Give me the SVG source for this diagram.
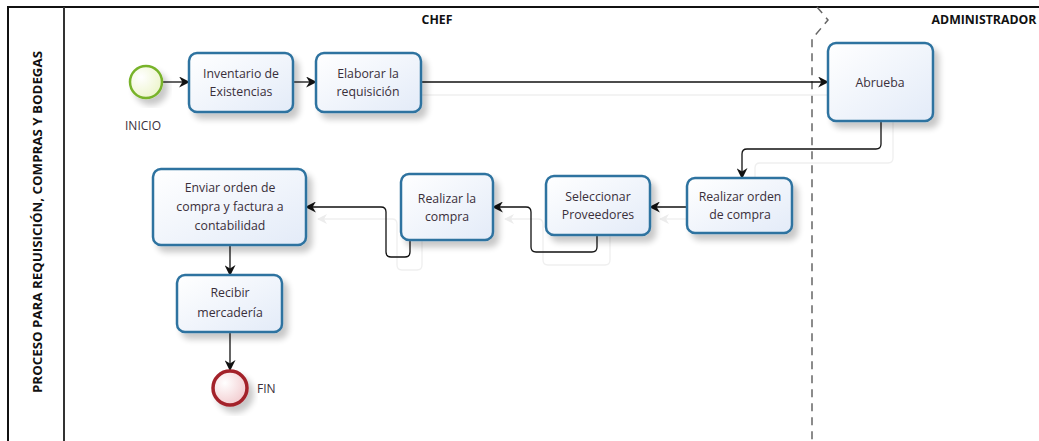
<svg xmlns="http://www.w3.org/2000/svg" width="1039" height="441" viewBox="0 0 1039 441">
  <defs>
    <linearGradient id="taskFill" x1="0" y1="0" x2="1" y2="1">
      <stop offset="0" stop-color="#ffffff"/>
      <stop offset="1" stop-color="#e3ebf8"/>
    </linearGradient>
    <radialGradient id="startFill" cx="0.35" cy="0.35" r="0.8">
      <stop offset="0" stop-color="#ffffff"/>
      <stop offset="1" stop-color="#eaf3c4"/>
    </radialGradient>
    <radialGradient id="endFill" cx="0.35" cy="0.35" r="0.8">
      <stop offset="0" stop-color="#ffffff"/>
      <stop offset="1" stop-color="#f0c4c8"/>
    </radialGradient>
    <filter id="shadow" x="-20%" y="-20%" width="150%" height="150%">
      <feGaussianBlur in="SourceAlpha" stdDeviation="3"/>
      <feOffset dx="5" dy="6" result="b"/>
      <feComponentTransfer><feFuncA type="linear" slope="0.22"/></feComponentTransfer>
      <feMerge><feMergeNode/><feMergeNode in="SourceGraphic"/></feMerge>
    </filter>
    <marker id="arrow" viewBox="0 0 10 10" refX="9" refY="5" markerWidth="11" markerHeight="11" markerUnits="userSpaceOnUse" orient="auto">
      <path d="M0,0 L10,5 L0,10 L3,5 Z" fill="#111"/>
    </marker>
    <marker id="arrowGhost" viewBox="0 0 10 10" refX="9" refY="5" markerWidth="10" markerHeight="10" markerUnits="userSpaceOnUse" orient="auto">
      <path d="M0,0 L10,5 L0,10 L3,5 Z" fill="#ececec"/>
    </marker>
  </defs>
  <style>
    .frame { fill: none; stroke: #111; stroke-width: 2; }
    .task { fill: url(#taskFill); stroke: #2f73a0; stroke-width: 2.5; }
    .label { font-family: "Open Sans", "Noto Sans", sans-serif; font-size: 12.3px; fill: #3a2f3a; text-anchor: middle; }
    .lane { font-family: "Open Sans", "Noto Sans", sans-serif; font-size: 12.3px; font-weight: bold; fill: #111; text-anchor: middle; }
    .evlabel { font-family: "Open Sans", "Noto Sans", sans-serif; font-size: 12px; fill: #3a2f3a; }
    .flow { fill: none; stroke: #111; stroke-width: 1.3; marker-end: url(#arrow); }
    .ghost { fill: none; stroke: #efefef; stroke-width: 1.3; }
  </style>

  <rect width="1039" height="441" fill="#ffffff"/>

  <!-- pool frame -->
  <g id="pool">
    <path class="frame" d="M8,441 L8,7 L1039,7"/>
    <line x1="64" y1="7" x2="64" y2="441" stroke="#333" stroke-width="2"/>
    <text class="lane" transform="translate(42,222) rotate(-90)" textLength="342" lengthAdjust="spacingAndGlyphs">PROCESO PARA REQUISICIÓN, COMPRAS Y BODEGAS</text>
  </g>

  <!-- lanes -->
  <g id="lane-chef">
    <text class="lane" x="437" y="24">CHEF</text>
  </g>
  <g id="lane-administrador">
    <path d="M817,7 L828,20 L812,39 L812,441" fill="none" stroke="#666" stroke-width="1.5" stroke-dasharray="8,6"/>
    <text class="lane" x="984" y="24">ADMINISTRADOR</text>
  </g>

  <!-- faint connector shadows -->
  <g id="connector-shadows">
    <path class="ghost" d="M421,95 L828,95"/>
    <path class="ghost" d="M893,121 L893,158 Q893,163 888,163 L760,163 Q755,163 755,168 L755,178"/>
    <path class="ghost" d="M687,219 L660,219" marker-end="url(#arrowGhost)"/>
    <path class="ghost" d="M610,235 L610,260 Q610,265 605,265 L548,265 Q543,265 543,260 L543,224 Q543,219 538,219 L505,219" marker-end="url(#arrowGhost)"/>
    <path class="ghost" d="M422,240 L422,265 Q422,270 417,270 L402,270 Q397,270 397,265 L397,224 Q397,219 392,219 L318,219" marker-end="url(#arrowGhost)"/>
  </g>

  <!-- connectors -->
  <g id="connectors">
    <path class="flow" d="M162,82 L189,82"/>
    <path class="flow" d="M293,82 L316,82"/>
    <path class="flow" d="M421,82 L828,82"/>
    <path class="flow" d="M881,121 L881,144 Q881,149 876,149 L747,149 Q742,149 742,154 L742,178"/>
    <path class="flow" d="M687,207 L650,207"/>
    <path class="flow" d="M597,235 L597,247 Q597,252 592,252 L536,252 Q531,252 531,247 L531,212 Q531,207 526,207 L493,207"/>
    <path class="flow" d="M410,240 L410,252 Q410,257 405,257 L391,257 Q386,257 386,252 L386,212 Q386,207 381,207 L306,207"/>
    <path class="flow" d="M230,245 L230,275"/>
    <path class="flow" d="M230,332 L230,370"/>
  </g>

  <!-- events -->
  <g id="inicio">
    <circle cx="146" cy="82" r="16" fill="url(#startFill)" stroke="#78b32b" stroke-width="2.5" filter="url(#shadow)"/>
    <text class="evlabel" x="125" y="130">INICIO</text>
  </g>
  <g id="fin">
    <circle cx="230" cy="388" r="17" fill="url(#endFill)" stroke="#a3232b" stroke-width="3.5" filter="url(#shadow)"/>
    <text class="evlabel" x="257" y="393">FIN</text>
  </g>

  <!-- tasks -->
  <g id="inventario">
    <rect class="task" x="189" y="53" width="104" height="59" rx="8" filter="url(#shadow)"/>
    <text class="label" x="241" y="78">Inventario de</text>
    <text class="label" x="241" y="96">Existencias</text>
  </g>
  <g id="elaborar">
    <rect class="task" x="316" y="53" width="105" height="59" rx="8" filter="url(#shadow)"/>
    <text class="label" x="368" y="78">Elaborar la</text>
    <text class="label" x="368" y="96">requisición</text>
  </g>
  <g id="abrueba">
    <rect class="task" x="828" y="43" width="105" height="78" rx="8" filter="url(#shadow)"/>
    <text class="label" x="880" y="87">Abrueba</text>
  </g>
  <g id="realizar-orden">
    <rect class="task" x="687" y="178" width="105" height="55" rx="8" filter="url(#shadow)"/>
    <text class="label" x="740" y="201">Realizar orden</text>
    <text class="label" x="740" y="219">de compra</text>
  </g>
  <g id="seleccionar">
    <rect class="task" x="546" y="176" width="104" height="59" rx="8" filter="url(#shadow)"/>
    <text class="label" x="598" y="201">Seleccionar</text>
    <text class="label" x="598" y="219">Proveedores</text>
  </g>
  <g id="realizar-compra">
    <rect class="task" x="401" y="174" width="92" height="66" rx="8" filter="url(#shadow)"/>
    <text class="label" x="447" y="203">Realizar la</text>
    <text class="label" x="447" y="221">compra</text>
  </g>
  <g id="enviar">
    <rect class="task" x="153" y="169" width="153" height="76" rx="8" filter="url(#shadow)"/>
    <text class="label" x="230" y="192">Enviar orden de</text>
    <text class="label" x="230" y="211">compra y factura a</text>
    <text class="label" x="230" y="230">contabilidad</text>
  </g>
  <g id="recibir">
    <rect class="task" x="177" y="275" width="105" height="57" rx="8" filter="url(#shadow)"/>
    <text class="label" x="230" y="297">Recibir</text>
    <text class="label" x="230" y="317">mercadería</text>
  </g>
</svg>
